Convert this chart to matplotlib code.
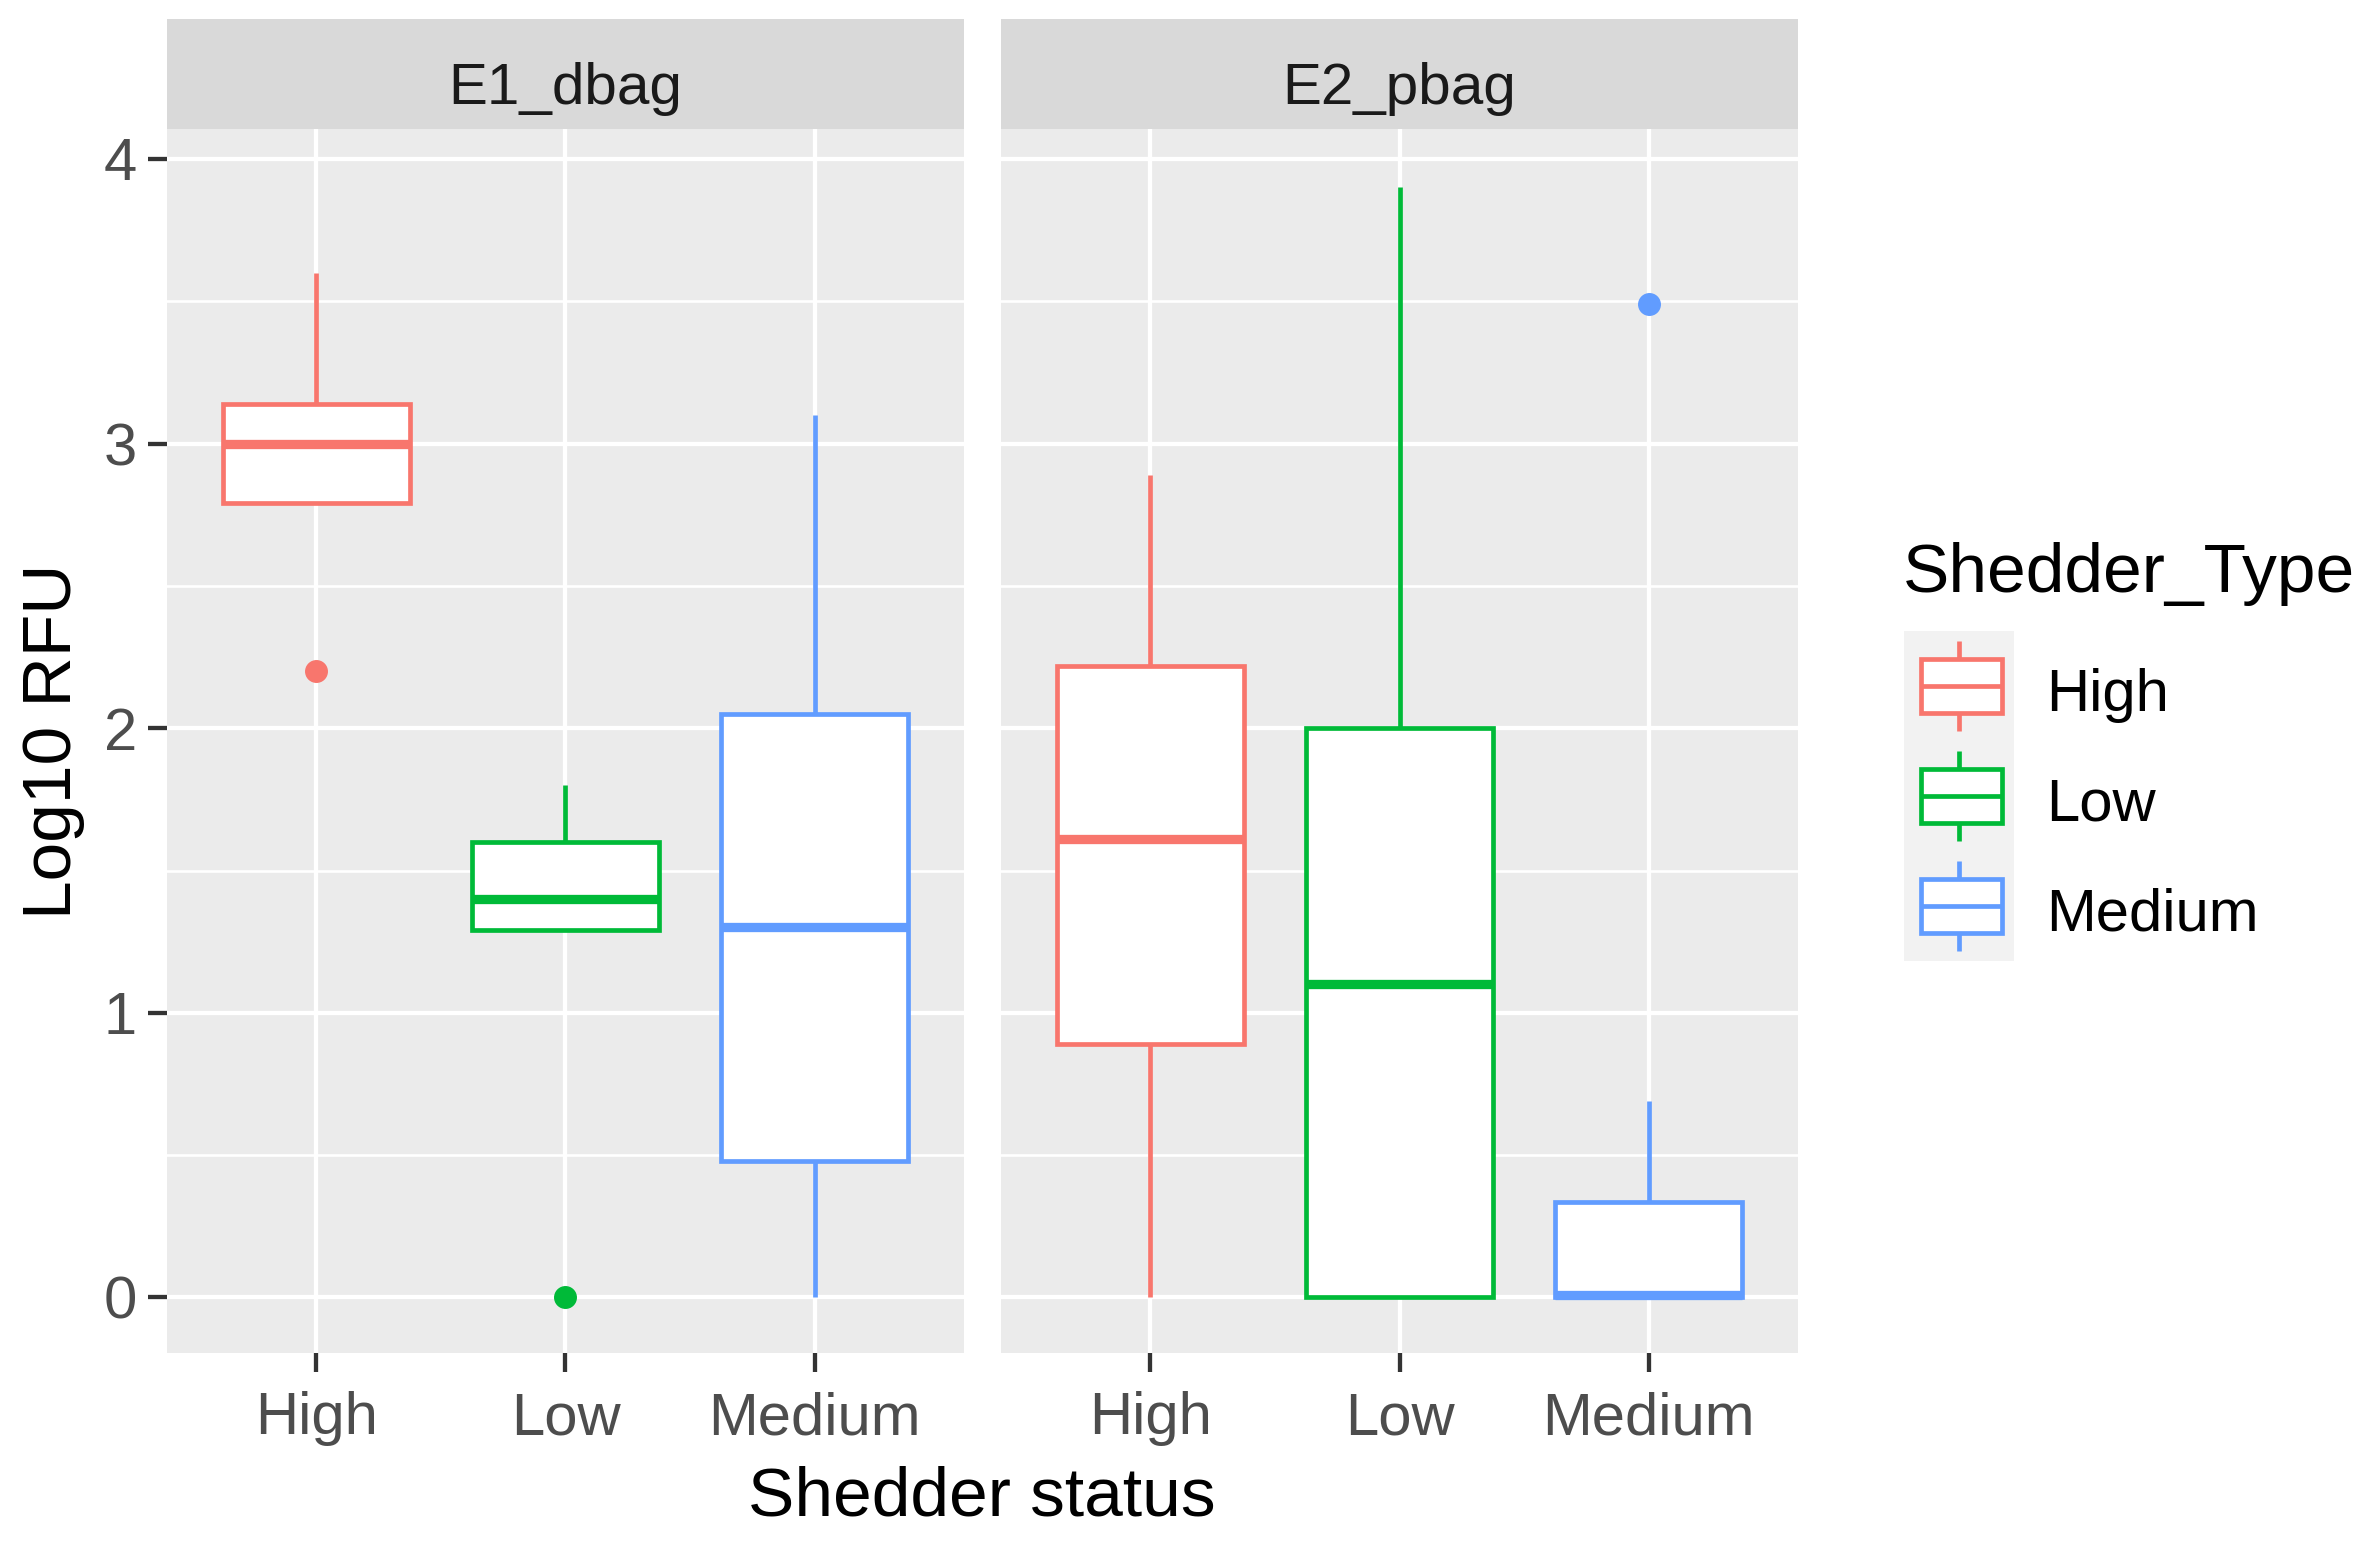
import matplotlib
matplotlib.use("Agg")
import matplotlib.pyplot as plt
from matplotlib.patches import Rectangle

plt.rcParams['font.family'] = ['Liberation Sans', 'DejaVu Sans']

# ---------------- data ----------------
facets = ["E1_dbag", "E2_pbag"]
categories = ["High", "Low", "Medium"]
colors = ["#F8766D", "#00BA38", "#619CFF"]

# per facet, per category: whisker low, Q1, median, Q3, whisker high
E1_whislo = [2.79, 1.29, 0.00]
E1_q1     = [2.79, 1.29, 0.48]
E1_med    = [3.00, 1.40, 1.30]
E1_q3     = [3.14, 1.60, 2.05]
E1_whishi = [3.60, 1.80, 3.10]
E1_fliers = [[2.20], [0.00], []]

E2_whislo = [0.00, 0.00, 0.00]
E2_q1     = [0.89, 0.00, 0.00]
E2_med    = [1.61, 1.10, 0.01]
E2_q3     = [2.22, 2.00, 0.335]
E2_whishi = [2.89, 3.90, 0.69]
E2_fliers = [[], [], [3.49]]

yticks = [0, 1, 2, 3, 4]
ylabel = "Log10 RFU"
xlabel = "Shedder status"
legend_title = "Shedder_Type"

# ---------------- figure ----------------
W, H = 2371, 1541
fig = plt.figure(figsize=(W / 100, H / 100), dpi=100)

panel_left = [167, 1001]
panel_w = 797
panel_top = 129
panel_bot = 1353
strip_top = 19

PT = 72 / 100  # px -> pt
box_lw = 4.7 * PT
med_lw = 9.3 * PT
grid_major = 4.3 * PT
grid_minor = 2.6 * PT

data = [
    (E1_whislo, E1_q1, E1_med, E1_q3, E1_whishi, E1_fliers),
    (E2_whislo, E2_q1, E2_med, E2_q3, E2_whishi, E2_fliers),
]

def fx(px):
    return px / W

def fy(py):
    return 1 - py / H

for i, (facet, d) in enumerate(zip(facets, data)):
    l = panel_left[i]
    ax = fig.add_axes([fx(l), fy(panel_bot), fx(panel_w), (panel_bot - panel_top) / H])
    ax.set_facecolor("#EBEBEB")
    for s in ax.spines.values():
        s.set_visible(False)
    ax.set_xlim(0.4, 3.6)
    ax.set_ylim(-0.195, 4.105)
    xs = list(range(1, len(categories) + 1))
    # grid
    for y in [0.5, 1.5, 2.5, 3.5]:
        ax.axhline(y, color="white", lw=grid_minor, zorder=0)
    for y in yticks:
        ax.axhline(y, color="white", lw=grid_major, zorder=0)
    for x in xs:
        ax.axvline(x, color="white", lw=grid_major, zorder=0)

    whislo, q1, med, q3, whishi, fliers = d
    for j, x in enumerate(xs):
        stats = [dict(whislo=whislo[j], q1=q1[j], med=med[j], q3=q3[j],
                      whishi=whishi[j], fliers=fliers[j])]
        c = colors[j]
        ax.bxp(stats, positions=[x], widths=0.75, patch_artist=True,
               showcaps=False, manage_ticks=False,
               boxprops=dict(facecolor="white", edgecolor=c, linewidth=box_lw),
               whiskerprops=dict(color=c, linewidth=box_lw, solid_capstyle="butt"),
               medianprops=dict(color=c, linewidth=med_lw, solid_capstyle="butt"),
               flierprops=dict(marker="o", markerfacecolor=c, markeredgecolor=c,
                               markersize=15.5, linestyle="none"),
               zorder=3)

    ax.set_xticks(xs)
    ax.set_xticklabels(categories, fontsize=43, color="#4D4D4D")
    ax.tick_params(axis="x", length=19 * PT, width=4.3 * PT, color="#333333", pad=14)
    ax.set_yticks(yticks)
    if i == 0:
        ax.set_yticklabels([str(t) for t in yticks], fontsize=43, color="#4D4D4D")
        ax.tick_params(axis="y", length=19 * PT, width=4.3 * PT, color="#333333", pad=8)
    else:
        ax.tick_params(axis="y", length=0, labelleft=False)

    # strip
    sax = fig.add_axes([fx(l), fy(panel_top), fx(panel_w), (panel_top - strip_top) / H])
    sax.set_facecolor("#D9D9D9")
    sax.set_xticks([]); sax.set_yticks([])
    for s in sax.spines.values():
        s.set_visible(False)
    sax.text(0.5, 0.42, facet, ha="center", va="center_baseline", fontsize=42,
             color="#1A1A1A", transform=sax.transAxes)

# overlay axes for titles and legend
ov = fig.add_axes([0, 0, 1, 1])
ov.set_xlim(0, W); ov.set_ylim(H, 0)
ov.axis("off")
ov.patch.set_alpha(0)

ov.text(53, 741, ylabel, rotation=90, ha="center", va="center", fontsize=50, color="black")
ov.text(982, 1497, xlabel, ha="center", va="center", fontsize=50, color="black")

# legend
ov.text(1903, 574, legend_title, ha="left", va="center", fontsize=50, color="black")
key_x0, key_x1 = 1904, 2014
key_y0 = 631
key_h = 110
ov.add_patch(Rectangle((key_x0, key_y0), key_x1 - key_x0, key_h * 3,
                       facecolor="#F2F2F2", edgecolor="none"))
for k, (lab, c) in enumerate(zip(categories, colors)):
    yc = key_y0 + key_h * (k + 0.5)
    xc = (key_x0 + key_x1) / 2
    bx0, bx1 = 1921, 2002
    by0, by1 = yc - 27, yc + 27
    ov.plot([xc, xc], [yc - 45, by0], color=c, lw=box_lw, solid_capstyle="butt")
    ov.plot([xc, xc], [by1, yc + 45], color=c, lw=box_lw, solid_capstyle="butt")
    ov.add_patch(Rectangle((bx0, by0), bx1 - bx0, by1 - by0, facecolor="white",
                           edgecolor=c, lw=box_lw))
    ov.plot([bx0, bx1], [yc, yc], color=c, lw=box_lw, solid_capstyle="butt")
    ov.text(2046, yc + 3, lab, ha="left", va="center_baseline", fontsize=43, color="black")

fig.savefig("out.png", dpi=100, facecolor="white")
